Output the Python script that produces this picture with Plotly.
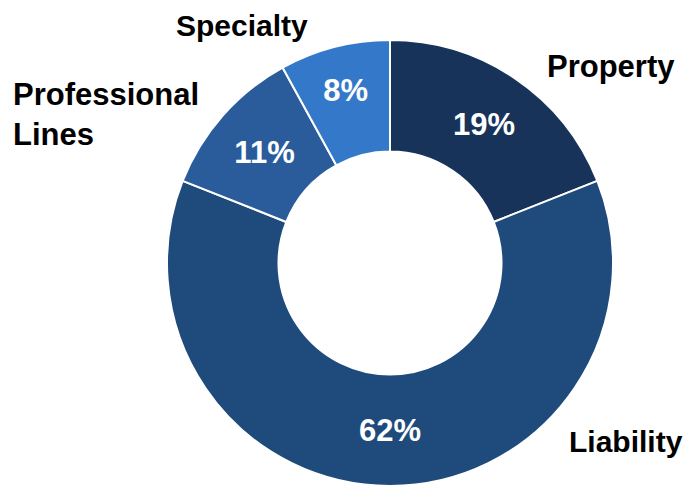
import plotly.graph_objects as go

categories = ["Property", "Liability", "Professional Lines", "Specialty"]
values = [19, 62, 11, 8]
pct_labels = ["19%", "62%", "11%", "8%"]
colors = ["#17335A", "#1F4A7C", "#2A5C9C", "#3479C9"]

W, H = 692, 487
OFF = 8  # page body margin
x0, x1 = 167 - OFF, 613 - OFF
y0, y1 = 40 - OFF, 486 - OFF

fig = go.Figure(go.Pie(
    labels=categories,
    values=values,
    text=pct_labels,
    texttemplate="<b>%{text}</b>",
    textinfo="text",
    textposition="inside",
    insidetextorientation="horizontal",
    textfont=dict(family="Liberation Sans, Arial", size=31, color="white"),
    hole=0.5,
    sort=False,
    direction="clockwise",
    rotation=0,
    marker=dict(colors=colors, line=dict(color="white", width=2)),
    domain=dict(x=[x0 / W, x1 / W], y=[1 - y1 / H, 1 - y0 / H]),
    showlegend=False,
))

ann = [
    ("Property", 546, 67, 31, "middle"),
    ("Liability", 568, 441, 30, "middle"),
    ("Professional<br>Lines", 12, 115, 31, "middle"),
    ("Specialty", 175, OFF, 30, "top"),
]
for t, x, y, fs, ya in ann:
    fig.add_annotation(text="<b>" + t + "</b>", x=(x - OFF) / W, y=1 - (y - OFF) / H,
                       xref="paper", yref="paper", xanchor="left", yanchor=ya,
                       align="left", showarrow=False, borderpad=0,
                       font=dict(family="Liberation Sans, Arial", size=fs, color="black"))

fig.update_layout(width=W, height=H, margin=dict(l=0, r=0, t=0, b=0),
                  paper_bgcolor="white", plot_bgcolor="white")
fig.write_html("out.html")
